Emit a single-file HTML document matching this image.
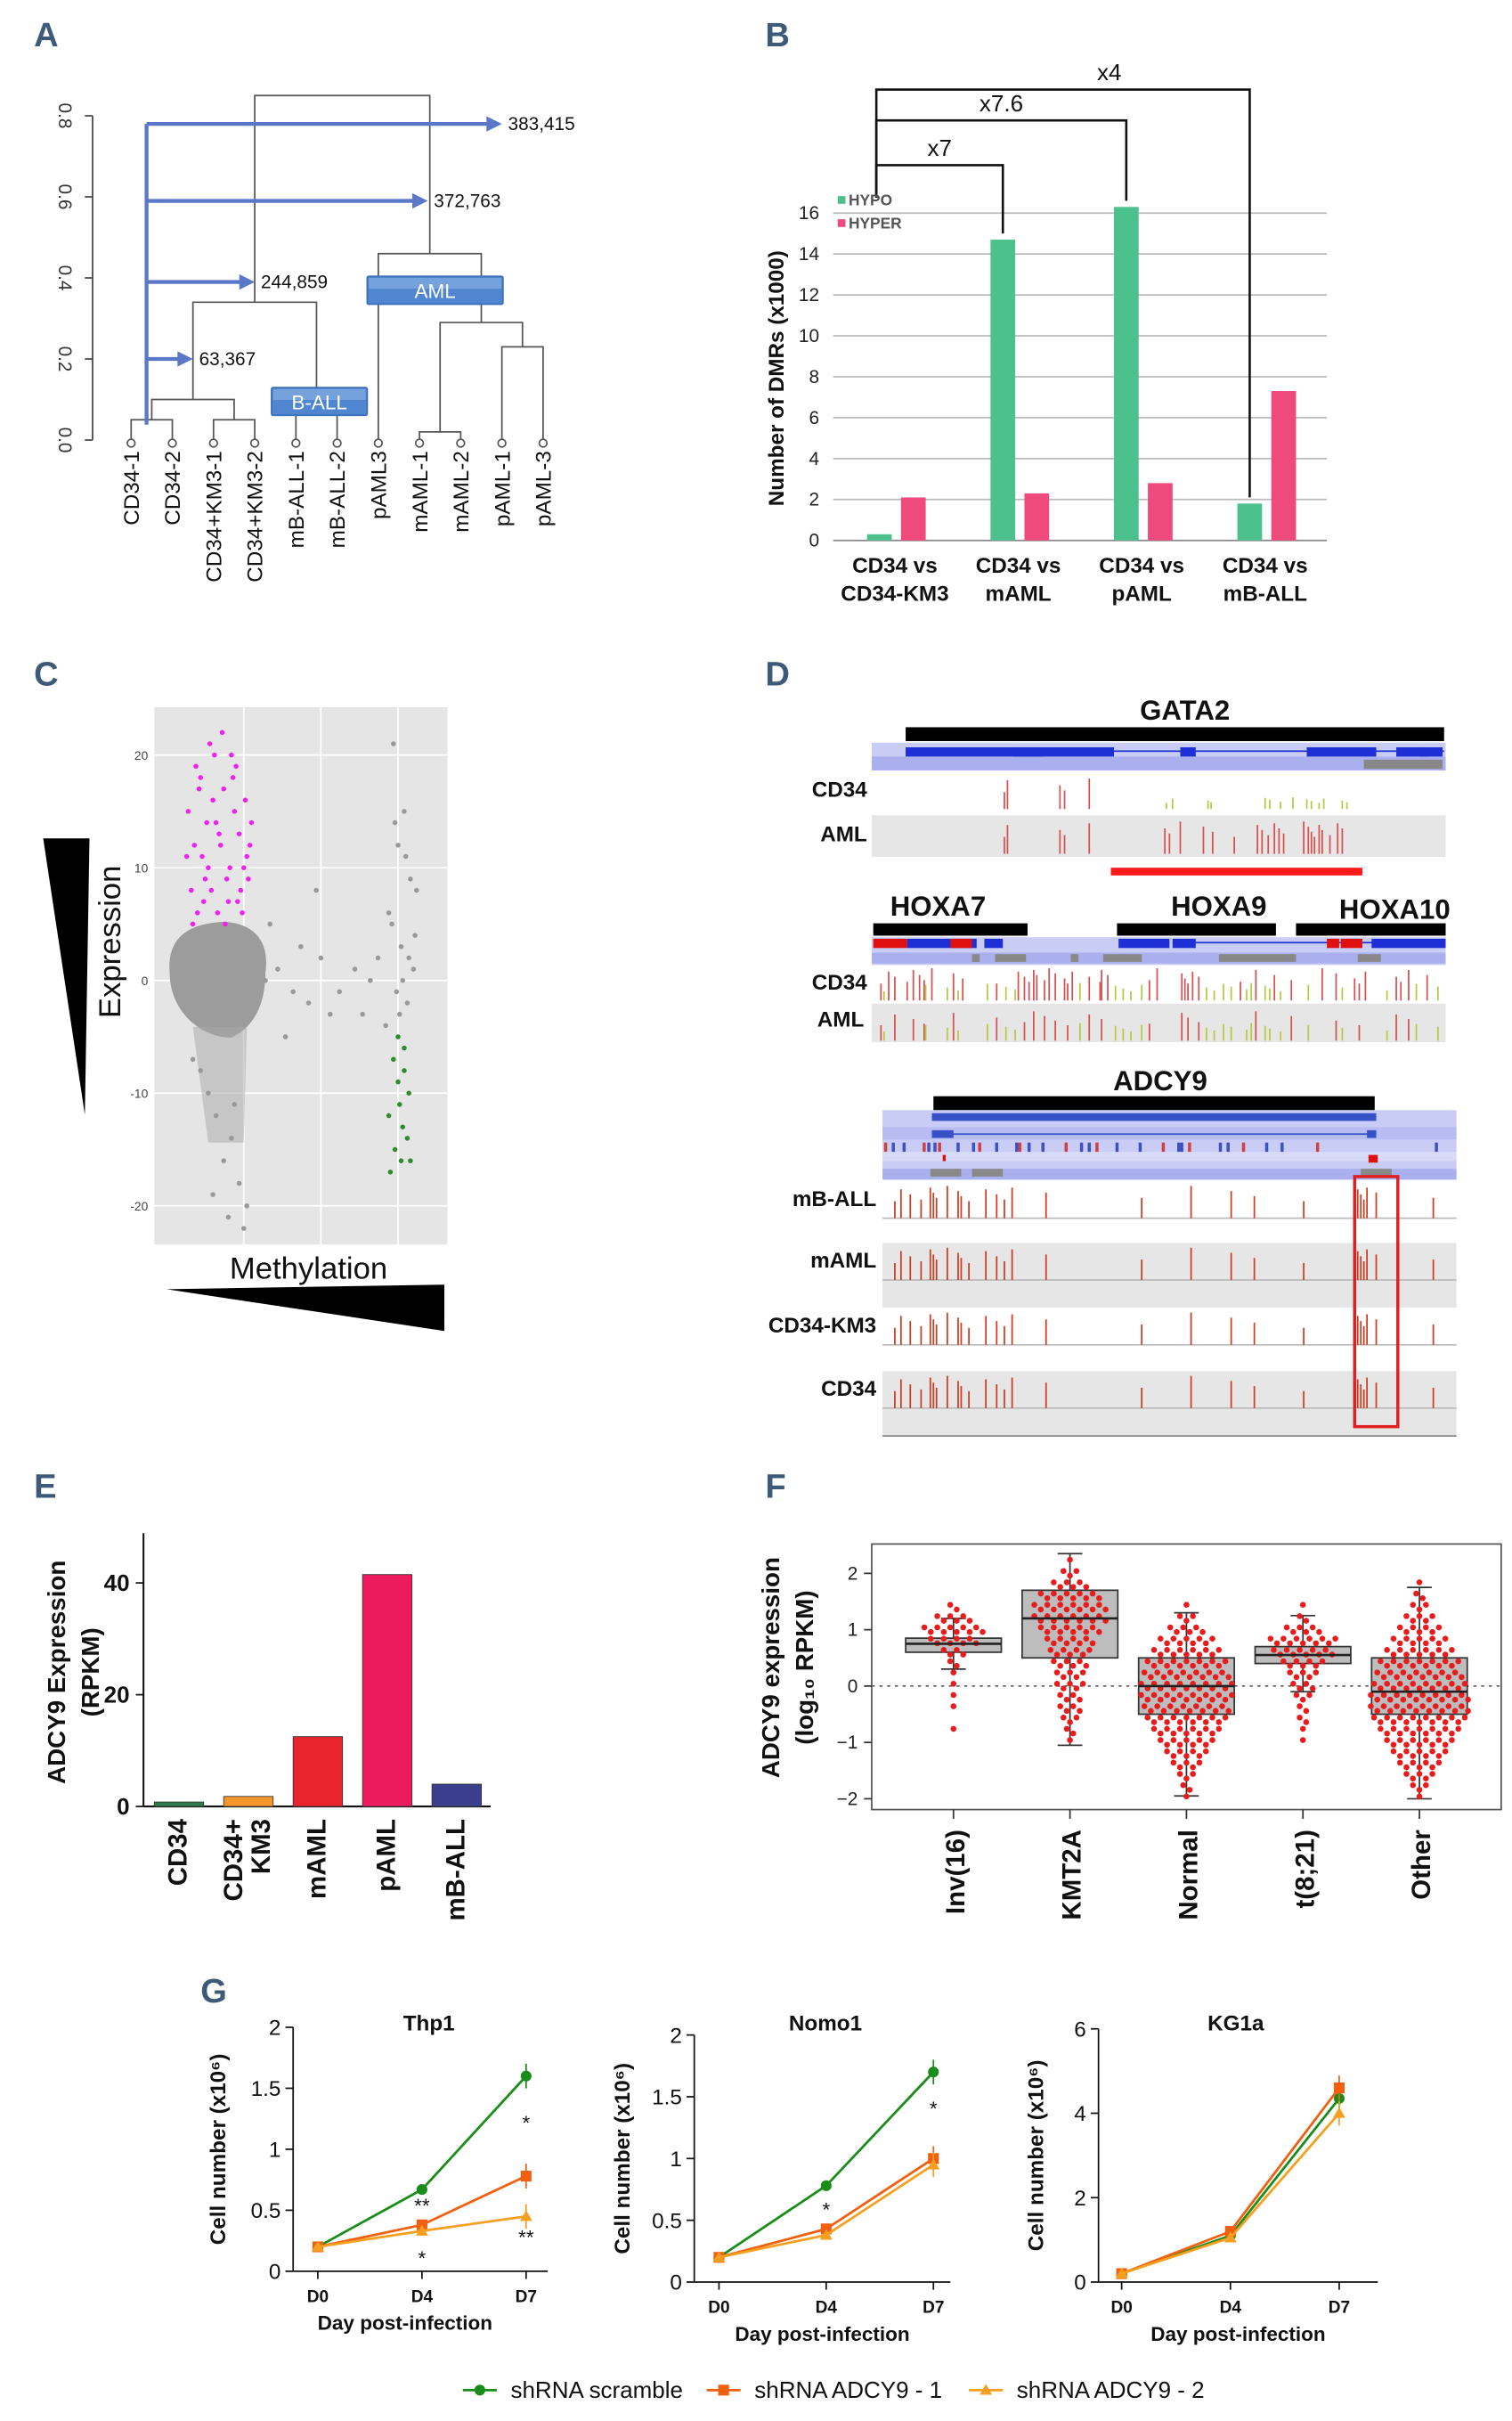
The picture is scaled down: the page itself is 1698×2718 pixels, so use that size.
<!DOCTYPE html>
<html><head><meta charset="utf-8"><style>
html,body{margin:0;padding:0;background:#fff}
svg{display:block}
text{font-family:"Liberation Sans",sans-serif}
</style></head><body>
<svg id="fig" xmlns="http://www.w3.org/2000/svg" width="1698" height="2718" viewBox="0 0 980 1568" preserveAspectRatio="none">
<g id="panelLetters" fill="#3d5a78" font-size="22" font-weight="bold">
<text x="22" y="30">A</text>
<text x="496" y="30">B</text>
<text x="22" y="444">C</text>
<text x="496" y="444">D</text>
<text x="22" y="970">E</text>
<text x="496" y="970">F</text>
<text x="130" y="1297">G</text>
</g>
</svg>
<script>
const svg=document.getElementById('fig');
const NS='http://www.w3.org/2000/svg';
function mk(tag,attrs,parent){const e=document.createElementNS(NS,tag);for(const k in attrs)e.setAttribute(k,attrs[k]);(parent||svg).appendChild(e);return e;}
function txt(x,y,s,attrs,parent){const e=mk('text',Object.assign({x:x,y:y},attrs||{}),parent);e.textContent=s;return e;}

/* ================= PANEL A: dendrogram ================= */
const aLeaves=['CD34-1','CD34-2','CD34+KM3-1','CD34+KM3-2','mB-ALL-1','mB-ALL-2','pAML3','mAML-1','mAML-2','pAML-1','pAML-3'];
const aTicks=[0,0.2,0.4,0.6,0.8];
const aArrowVals=[0.78,0.59,0.39,0.2];
const aArrowLabels=['383,415','372,763','244,859','63,367'];
const aArrowEnds=[9.0,7.2,3.0,1.5];
const aLinks=[[0,1,0.05],[2,3,0.05],['a','b',0.1],[4,5,0.07],['c','d',0.34],[7,8,0.02],[9,10,0.23],['f','g',0.29],[6,'h',0.46],['e','i',0.85]];
const gA=mk('g',{});
const axL=i=>85+i*26.7, ayL=v=>285-v*262.5;
mk('line',{x1:60,y1:ayL(0),x2:60,y2:ayL(0.8),stroke:'#444','stroke-width':1},gA);
aTicks.forEach(t=>{mk('line',{x1:55,y1:ayL(t),x2:60,y2:ayL(t),stroke:'#444'},gA);
 const l=txt(38,ayL(t),t.toFixed(1),{'font-size':12,fill:'#333','text-anchor':'middle',transform:`rotate(90 38 ${ayL(t)})`},gA);
 });
const nodes={};
const keys='abcdefghij';
function nodeX(n){return typeof n==='number'?axL(n):nodes[n].x;}
function nodeY(n){return typeof n==='number'?ayL(0):nodes[n].y;}
aLinks.forEach((lk,i)=>{const x1=nodeX(lk[0]),x2=nodeX(lk[1]),y=ayL(lk[2]);
 const p=mk('path',{d:`M${x1},${nodeY(lk[0])}V${y}H${x2}V${nodeY(lk[1])}`,fill:'none',stroke:'#555','stroke-width':1},gA);
 
 nodes[keys[i]]={x:(x1+x2)/2,y:y};});
aLeaves.forEach((n,i)=>{const x=axL(i);
 const c=mk('circle',{cx:x,cy:ayL(0)+2,r:2.5,fill:'#fff',stroke:'#555'},gA);
 const t=txt(x+5,292,n,{'font-size':14,'text-anchor':'end',transform:`rotate(-90 ${x+5} 292)`,fill:'#111'},gA);
 });
mk('line',{x1:95,y1:ayL(aArrowVals[0]),x2:95,y2:275,stroke:'#5b78c8','stroke-width':2.5},gA);
aArrowVals.forEach((v,i)=>{const y=ayL(v),x2=axL(aArrowEnds[i]);
 const a=mk('line',{x1:95,y1:y,x2:x2-8,y2:y,stroke:'#5b78c8','stroke-width':2.5},gA);
 mk('polygon',{points:`${x2},${y} ${x2-10},${y-5} ${x2-10},${y+5}`,fill:'#5b78c8'},gA);
 const t=txt(x2+4,y+4,aArrowLabels[i],{'font-size':12,fill:'#111'},gA);});
[['AML',238,179,88],['B-ALL',176,251,62]].forEach(b=>{
 const r=mk('rect',{x:b[1],y:b[2],width:b[3],height:18,fill:'#4f86cf',stroke:'#3a6fb7',rx:1},gA);
 mk('rect',{x:b[1]+1,y:b[2]+1,width:b[3]-2,height:7,fill:'#8fb5e6',opacity:0.6},gA);
 const t=txt(b[1]+b[3]/2,b[2]+14,b[0],{'font-size':13,fill:'#fff','text-anchor':'middle'},gA);});

/* ================= PANEL B: DMR bars ================= */
const bCats=[['CD34 vs','CD34-KM3'],['CD34 vs','mAML'],['CD34 vs','pAML'],['CD34 vs','mB-ALL']];
const bHypo=[0.3,14.7,16.3,1.8];
const bHyper=[2.1,2.3,2.8,7.3];
const bTicks=[0,2,4,6,8,10,12,14,16];
const bBrackets=['x7','x7.6','x4'];
const gB=mk('g',{});
const by=v=>350-v*13.25, bx=i=>580+i*80;
bTicks.forEach(t=>{if(t>0){const g=mk('line',{x1:540,y1:by(t),x2:860,y2:by(t),stroke:'#bbb'},gB);}
 const l=txt(531,by(t)+4,t,{'font-size':12,'text-anchor':'end',fill:'#222'},gB);});
mk('line',{x1:540,y1:350,x2:860,y2:350,stroke:'#888'},gB);
const byl=txt(508,245,'Number of DMRs (x1000)',{'font-size':14,'font-weight':'bold','text-anchor':'middle',transform:'rotate(-90 508 245)',fill:'#111'},gB);

bCats.forEach((c,i)=>{
 const r1=mk('rect',{x:bx(i)-18,y:by(bHypo[i]),width:16,height:350-by(bHypo[i]),fill:'#4cc08d'},gB);
 const r2=mk('rect',{x:bx(i)+4,y:by(bHyper[i]),width:16,height:350-by(bHyper[i]),fill:'#ee4a7c'},gB);
 const t1=txt(bx(i),371,c[0],{'font-size':14,'font-weight':'bold','text-anchor':'middle',fill:'#111'},gB);
 const t2=txt(bx(i),389,c[1],{'font-size':14,'font-weight':'bold','text-anchor':'middle',fill:'#111'},gB);});
const brY=[107,78,58];
bBrackets.forEach((s,i)=>{const x2=bx(i+1)-10,y=brY[i];
 const p=mk('path',{d:`M568,128V${y}H${x2}V${by(bHypo[i+1])-4}`,fill:'none',stroke:'#111','stroke-width':1.5},gB);
 const t=txt((568+x2)/2+(i==2?30:0),y-6,s,{'font-size':15,'text-anchor':'middle',fill:'#111'},gB);});
[['HYPO','#4cc08d',133],['HYPER','#ee4a7c',148]].forEach(l=>{mk('rect',{x:543,y:l[2]-6,width:5,height:5,fill:l[1]},gB);
 const t=txt(550,l[2],l[0],{'font-size':10,'font-weight':'bold',fill:'#555'},gB);});

/* ================= PANEL C: scatter ================= */
const cMagX=[122,126,130,135,140,145,150,155,160,124,128,133,138,143,148,153,158,163,125,131,137,142,147,152,157,162,129,136,144,151,159,146,154,141,149,156,121,134,139,161,127,132];
const cMagY=[15,12,18,10,14,17,20,13,11,8,6,9,16,12,7,19,10,14,5,11,8,13,9,15,6,12,17,21,22,18,16,5,7,6,10,8,11,14,20,9,19,7];
const cGreenX=[258,262,255,265,259,252,261,264,256,260,253,266,258,262];
const cGreenY=[-5,-6,-7,-10,-11,-12,-13,-14,-15,-16,-17,-16,-9,-8];
const cGreyX=[255,262,258,266,252,260,268,257,264,254,270,259,263,256,261,265,250,269,172,180,190,200,208,214,185,195,205,175,220,230,240,235,245];
const cGreyY=[21,15,12,9,6,3,1,-1,-2,5,8,-3,11,14,0,2,-4,4,0,1,-1,-2,2,-3,-5,3,8,5,-1,1,0,-3,2];
const cLowX=[125,135,140,150,155,160,145,130,158,148,138,152];
const cLowY=[-7,-10,-12,-14,-18,-20,-16,-8,-22,-21,-19,-11];
const gC=mk('g',{});
const cy=v=>635-v*7.3;
const bg=mk('rect',{x:100,y:458,width:190,height:348,fill:'#e5e5e5'},gC);
[158,208,258].forEach(x=>mk('line',{x1:x,y1:458,x2:x,y2:806,stroke:'#fff','stroke-width':1},gC));
[20,10,0,-10,-20].forEach(t=>{mk('line',{x1:100,y1:cy(t),x2:290,y2:cy(t),stroke:'#fff'},gC);
 const l=txt(96,cy(t)+3,t,{'font-size':8,'text-anchor':'end',fill:'#444'},gC);});
const blob=mk('path',{d:'M110,630 C108,605 125,598 145,597 C165,598 175,610 172,630 C172,650 165,665 150,672 C130,672 110,655 110,630Z',fill:'#9c9c9c'},gC);

mk('path',{d:'M125,665 L160,665 L158,740 L135,740Z',fill:'#a8a8a8',opacity:0.5},gC);
function dots(xs,ys,col,name){xs.forEach((x,i)=>{const d=mk('circle',{cx:x,cy:cy(ys[i]),r:1.6,fill:col},gC);});}
dots(cGreyX,cGreyY,'#999','c-point-grey');dots(cLowX,cLowY,'#999','c-point-grey');
dots(cMagX,cMagY,'#ee22ee','c-point-magenta');dots(cGreenX,cGreenY,'#2e8b2e','c-point-green');
const tri1=mk('polygon',{points:'28,543 58,543 55,722',fill:'#000'},gC);
const tri2=mk('polygon',{points:'108,835 288,832 288,862',fill:'#000'},gC);
const ct1=txt(78,610,'Expression',{'font-size':20,'text-anchor':'middle',transform:'rotate(-90 78 610)',fill:'#111'},gC);
const ct2=txt(200,828,'Methylation',{'font-size':20,'text-anchor':'middle',fill:'#111'},gC);

/* ================= PANEL D: genome tracks ================= */
const gD=mk('g',{});
function R(x,y,w,h,f,name){const r=mk('rect',{x:x,y:y,width:w,height:h,fill:f},gD);return r;}
function T(x,y,s,size,anchor,name){const t=txt(x,y,s,{'font-size':size,'font-weight':'bold','text-anchor':anchor,fill:'#111'},gD);}
function ticks(xs,base,h,col){xs.forEach((x,i)=>{const l=mk('line',{x1:x,y1:base,x2:x,y2:base-h*(0.5+((i*37)%10)/20),stroke:col,'stroke-width':1},gD);});}
const gataRed=[651,653,687,690,706,826,845,887,889,892,895,898,905];
const gataAmlRed=[651,653,687,690,706,755,758,765,780,786,800,815,818,822,826,829,832,845,848,850,852,855,857,862,867,870];
const gataGreen=[756,760,783,785,820,823,830,838,847,850,855,858,870,873];
T(768,466,'GATA2',18,'middle','gene-title');
R(587,471,349,9,'#000','gene-bar');R(565,481,372,18,'#c9cdf5','annotation-track');R(565,490,372,9,'#aab0ee','annotation-track');
R(587,484,135,6,'#1f2fd6','exon');R(587,486,349,1,'#1f2fd6','intron');R(657,484,19,6,'#1f2fd6','exon');R(765,484,10,6,'#1f2fd6','exon');R(847,484,45,6,'#1f2fd6','exon');R(905,484,20,6,'#1f2fd6','exon');R(920,484,15,6,'#1f2fd6','exon');
R(884,492,51,6,'#888','cpg-island');
R(565,501,372,23,'#fff','track-cd34');T(562,516,'CD34',14,'end','track-label');
ticks(gataRed.slice(0,5),524,22,'#d65050');ticks(gataGreen,524,8,'#b8c840');
R(565,528,372,27,'#e6e6e6','track-aml');T(562,545,'AML',14,'end','track-label');
ticks(gataAmlRed,553,22,'#d65050');
R(720,562,163,5,'#ff1a1a','dmr-region-bar');
T(608,593,'HOXA7',18,'middle','gene-title');T(790,593,'HOXA9',18,'middle','gene-title');T(904,595,'HOXA10',18,'middle','gene-title');
R(566,598,100,8,'#000','gene-bar');R(724,598,103,8,'#000','gene-bar');R(840,598,97,8,'#000','gene-bar');
R(565,607,372,18,'#c9cdf5','annotation-track');R(565,617,372,7,'#aab0ee','annotation-track');
R(566,608,22,6,'#e01010','exon');R(588,608,45,6,'#1f2fd6','exon');R(616,608,14,6,'#e01010','exon');R(638,608,12,6,'#1f2fd6','exon');R(725,608,33,6,'#1f2fd6','exon');R(760,608,15,6,'#1f2fd6','exon');R(760,610,140,1,'#1f2fd6','intron');R(860,608,8,6,'#e01010','exon');R(869,608,14,6,'#e01010','exon');R(889,608,48,6,'#1f2fd6','exon');
[[630,5],[645,20],[694,5],[715,25],[790,50],[880,15]].forEach(g=>R(g[0],618,g[1],5,'#888','cpg-island'));
const hoxRed=[571,576,580,588,592,596,599,604,618,624,646,660,664,667,670,672,677,680,684,690,692,695,706,713,714,718,745,750,766,768,770,773,777,804,814,826,837,857,866,878,881,885,905,908,913,925];
const hoxGreen=[573,600,614,621,640,652,658,700,723,728,733,740,782,787,793,798,808,811,820,823,830,848,870,899,918,932];
T(562,641,'CD34',14,'end','track-label');ticks(hoxRed,648,22,'#d65050');ticks(hoxGreen,648,12,'#b8c840');
R(565,650,372,25,'#e6e6e6','track-aml');T(560,665,'AML',14,'end','track-label');
ticks(hoxRed.filter((x,i)=>i%2==0),674,20,'#d65050');ticks(hoxGreen,674,12,'#b8c840');
T(752,706,'ADCY9',18,'middle','gene-title');R(605,710,286,9,'#000','gene-bar');
R(572,719,372,45,'#c9cdf5','annotation-track');R(572,730,372,8,'#b7bdf0','annotation-track');R(572,746,372,6,'#d8dbf8','annotation-track');R(572,757,372,7,'#aab0ee','annotation-track');
R(604,721,288,5,'#3650c8','transcript');R(604,732,14,5,'#3650c8','exon');R(604,734,288,1,'#3650c8','intron');R(886,732,6,5,'#3650c8','exon');
const adRow=[573,578,585,598,601,605,608,620,630,634,645,658,660,666,675,690,700,705,710,723,738,753,763,765,770,790,795,805,820,830,853,930];
adRow.forEach((x,i)=>R(x,740,2,6,i%3==0?'#d04040':'#4050c0','snp-mark'));
R(611,748,2,4,'#e01010','marker');R(887,748,6,5,'#e01010','marker');
R(603,757,20,5,'#888','cpg-island');R(630,757,20,5,'#888','cpg-island');R(882,757,20,5,'#888','cpg-island');
const adTracks=[['mB-ALL',765,'#fff'],['mAML',805,'#e6e6e6'],['CD34-KM3',847,'#fff'],['CD34',888,'#e6e6e6']];
const adRed=[580,584,590,597,603,605,607,614,621,623,628,639,646,651,656,678,740,772,798,813,845,880,882,884,886,892,929];
adTracks.forEach(t=>{R(572,t[1],372,42,t[2],'track-'+t[0].toLowerCase());
 mk('line',{x1:572,y1:t[1]+24,x2:944,y2:t[1]+24,stroke:'#bbb'},gD);
 T(568,t[1]+16,t[0],14,'end','track-label');ticks(adRed,t[1]+24,22,'#d03a20');});
const box=mk('rect',{x:878,y:762,width:28,height:162,fill:'none',stroke:'#e02020','stroke-width':2},gD);
mk('line',{x1:572,y1:930,x2:944,y2:930,stroke:'#888'},gD);

/* ================= PANEL E: ADCY9 RPKM ================= */
const eCats=[['CD34'],['CD34+','KM3'],['mAML'],['pAML'],['mB-ALL']];
const eVals=[0.8,1.8,12.5,41.5,4];
const eCols=['#2e7d4f','#f5962a','#e8242c','#ec1a5e','#3a3e8c'];
const eTicks=[0,20,40];
const gE=mk('g',{});
const ey=v=>1170-v*3.62, ex=i=>116+i*45;
mk('line',{x1:93,y1:993,x2:93,y2:1170,stroke:'#111','stroke-width':1.2},gE);mk('line',{x1:93,y1:1170,x2:318,y2:1170,stroke:'#111','stroke-width':1.2},gE);
eTicks.forEach(t=>{mk('line',{x1:88,y1:ey(t),x2:93,y2:ey(t),stroke:'#111'},gE);
 const l=txt(84,ey(t)+5,t,{'font-size':15,'font-weight':'bold','text-anchor':'end',fill:'#111'},gE);});
const e1=txt(42,1083,'ADCY9 Expression',{'font-size':16,'font-weight':'bold','text-anchor':'middle',transform:'rotate(-90 42 1083)',fill:'#111'},gE);
const e2=txt(64,1083,'(RPKM)',{'font-size':16,'font-weight':'bold','text-anchor':'middle',transform:'rotate(-90 64 1083)',fill:'#111'},gE);
eCats.forEach((c,i)=>{const r=mk('rect',{x:ex(i)-16,y:ey(eVals[i]),width:32,height:1170-ey(eVals[i]),fill:eCols[i],stroke:'#333','stroke-width':0.5},gE);
 
 c.forEach((s,j)=>{const x=ex(i)+5+(c.length>1?(j-0.5)*18:0);const t=txt(x,1178,s,{'font-size':17,'font-weight':'bold','text-anchor':'end',transform:`rotate(-90 ${x} 1178)`,fill:'#111'},gE);
  });});

/* ================= PANEL F: box + swarm ================= */
const fCats=['Inv(16)','KMT2A','Normal','t(8;21)','Other'];
const fQ1=[0.6,0.5,-0.5,0.4,-0.5];
const fMed=[0.75,1.2,0,0.55,-0.1];
const fQ3=[0.85,1.7,0.5,0.7,0.5];
const fLo=[0.3,-1.05,-1.95,-0.1,-2];
const fHi=[1.2,2.35,1.3,1.25,1.75];
const fCounts=[
 [0,0,0,0,0,0,1,0,1,1,1,1,2,4,8,10,6,2,0,0,0,0],
 [0,0,0,0,0,1,2,3,4,4,5,5,6,7,8,10,12,12,10,6,3,1],
 [1,2,3,5,7,9,11,13,14,15,15,14,13,11,9,6,3,1,0,0,0,0],
 [0,0,0,0,0,1,1,2,2,3,4,5,7,10,11,6,2,1,0,0,0,0],
 [1,3,5,7,9,11,13,15,16,16,15,14,13,11,9,7,5,3,2,1,0,0]];
const fTicks=[-2,-1,0,1,2];
const gF=mk('g',{});
const fy=v=>1092-v*36.5, fx=i=>618+i*75.5;
const fr=mk('rect',{x:565,y:1000,width:408,height:172,fill:'#fff',stroke:'#555'},gF);
mk('line',{x1:565,y1:fy(0),x2:973,y2:fy(0),stroke:'#666','stroke-dasharray':'2,3'},gF);
fTicks.forEach(t=>{mk('line',{x1:560,y1:fy(t),x2:565,y2:fy(t),stroke:'#333'},gF);
 const l=txt(556,fy(t)+4,t<0?'\u2212'+Math.abs(t):t,{'font-size':12,'text-anchor':'end',fill:'#222'},gF);});
const fy1=txt(505,1080,'ADCY9 expression',{'font-size':16,'font-weight':'bold','text-anchor':'middle',transform:'rotate(-90 505 1080)',fill:'#111'},gF);
const fy2=txt(527,1080,'(log\u2081\u2080 RPKM)',{'font-size':16,'font-weight':'bold','text-anchor':'middle',transform:'rotate(-90 527 1080)',fill:'#111'},gF);
fCats.forEach((c,i)=>{const x=fx(i);
 mk('line',{x1:x,y1:fy(fLo[i]),x2:x,y2:fy(fHi[i]),stroke:'#333'},gF);
 mk('line',{x1:x-8,y1:fy(fLo[i]),x2:x+8,y2:fy(fLo[i]),stroke:'#333'},gF);mk('line',{x1:x-8,y1:fy(fHi[i]),x2:x+8,y2:fy(fHi[i]),stroke:'#333'},gF);
 const b=mk('rect',{x:x-31,y:fy(fQ3[i]),width:62,height:fy(fQ1[i])-fy(fQ3[i]),fill:'#bdbdbd',stroke:'#333'},gF);
 fCounts[i].forEach((n,k)=>{const v=-2+k*0.2;for(let j=0;j<n;j++){const off=(j-(n-1)/2)*4.2;
  const d=mk('circle',{cx:x+off,cy:fy(v)+((j%2)?1.5:-1.5),r:1.9,fill:'#e81c1c'},gF);}});
 mk('line',{x1:x-31,y1:fy(fMed[i]),x2:x+31,y2:fy(fMed[i]),stroke:'#222','stroke-width':1.5},gF);
 mk('line',{x1:x,y1:1172,x2:x,y2:1178,stroke:'#333'},gF);
 const t=txt(x+7,1185,c,{'font-size':17,'font-weight':'bold','text-anchor':'end',transform:`rotate(-90 ${x+7} 1185)`,fill:'#111'},gF);});

/* ================= PANEL G: growth curves ================= */
const gDays=['D0','D4','D7'];
const thpScr=[0.2,0.67,1.6], thpSh1=[0.2,0.38,0.78], thpSh2=[0.2,0.33,0.45];
const nomScr=[0.2,0.78,1.7], nomSh1=[0.2,0.43,1.0], nomSh2=[0.2,0.38,0.95];
const kgScr=[0.2,1.1,4.35], kgSh1=[0.2,1.2,4.6], kgSh2=[0.2,1.05,4.0];
const thpTicks=[0,0.5,1,1.5,2], nomTicks=[0,0.5,1,1.5,2], kgTicks=[0,2,4,6];
const gCols=['#1a8c1a','#f06010','#f5a020'];
const panels=[
 {name:'Thp1',x0:206,dx:67.5,y0:1471,ymax:2,yTop:1313,ticks:thpTicks,series:[thpScr,thpSh1,thpSh2],axL:190,axR:355,tx:278,ax:146,stars:[[1,1,'**',-8],[2,1,'*',22],[1,2,'*',-30],[2,2,'**',18]]},
 {name:'Nomo1',x0:466,dx:69.5,y0:1478,ymax:2,yTop:1318,ticks:nomTicks,series:[nomScr,nomSh1,nomSh2],axL:450,axR:616,tx:535,ax:408,stars:[[1,1,'*',-8],[1,2,'*',-28]]},
 {name:'KG1a',x0:727,dx:70.5,y0:1478,ymax:6,yTop:1314,ticks:kgTicks,series:[kgScr,kgSh1,kgSh2],axL:712,axR:893,tx:801,ax:676,stars:[]}];
panels.forEach(p=>{const g=mk('g',{});
 const yv=v=>p.y0-v/p.ymax*(p.y0-p.yTop), xv=i=>p.x0+p.dx*i;
 mk('line',{x1:p.axL,y1:p.yTop,x2:p.axL,y2:p.y0,stroke:'#111'},g);mk('line',{x1:p.axL,y1:p.y0,x2:p.axR,y2:p.y0,stroke:'#111'},g);
 p.ticks.forEach(t=>{mk('line',{x1:p.axL-5,y1:yv(t),x2:p.axL,y2:yv(t),stroke:'#111'},g);
  const l=txt(p.axL-8,yv(t)+5,t,{'font-size':14,'text-anchor':'end',fill:'#111'},g);});
 gDays.forEach((d,i)=>{mk('line',{x1:xv(i),y1:p.y0,x2:xv(i),y2:p.y0+5,stroke:'#111'},g);
  const l=txt(xv(i),p.y0+20,d,{'font-size':11,'font-weight':'bold','text-anchor':'middle',fill:'#111'},g);});
 const tt=txt(p.tx,1315,p.name,{'font-size':14,'font-weight':'bold','text-anchor':'middle',fill:'#111'},g);
 const xt=txt((p.axL+p.axR)/2+(p.name=='Thp1'?-10:0),p.y0+38,'Day post-infection',{'font-size':13,'font-weight':'bold','text-anchor':'middle',fill:'#111'},g);
 const ym=(p.y0+p.yTop)/2;const yt=txt(p.ax,ym,'Cell number (x10\u2076)',{'font-size':14,'font-weight':'bold','text-anchor':'middle',transform:`rotate(-90 ${p.ax} ${ym})`,fill:'#111'},g);
 p.series.forEach((s,k)=>{const pl=mk('polyline',{points:s.map((v,i)=>xv(i)+','+yv(v)).join(' '),fill:'none',stroke:gCols[k],'stroke-width':1.6},g);
  
  s.forEach((v,i)=>{const m=k==0?mk('circle',{cx:xv(i),cy:yv(v),r:3.5,fill:gCols[k]},g):k==1?mk('rect',{x:xv(i)-3.5,y:yv(v)-3.5,width:7,height:7,fill:gCols[k]},g):mk('polygon',{points:`${xv(i)},${yv(v)-4} ${xv(i)-4},${yv(v)+3} ${xv(i)+4},${yv(v)+3}`,fill:gCols[k]},g);
   
   if(i==2){mk('line',{x1:xv(i),y1:yv(v)-8,x2:xv(i),y2:yv(v)+8,stroke:gCols[k]},g);}});});
 p.stars.forEach(st=>{const v=p.series[st[0]][st[1]];const s=txt(xv(st[1]),yv(v)+st[3],st[2],{'font-size':13,'text-anchor':'middle',fill:'#111'},g);});});
const gl=mk('g',{});
[['shRNA scramble',300],['shRNA ADCY9 - 1',458],['shRNA ADCY9 - 2',628]].forEach((l,k)=>{const x=l[1];
 mk('line',{x1:x,y1:1548,x2:x+22,y2:1548,stroke:gCols[k],'stroke-width':1.6},gl);
 const m=k==0?mk('circle',{cx:x+11,cy:1548,r:3.5,fill:gCols[k]},gl):k==1?mk('rect',{x:x+7.5,y:1544.5,width:7,height:7,fill:gCols[k]},gl):mk('polygon',{points:`${x+11},1544 ${x+7},1551 ${x+15},1551`,fill:gCols[k]},gl);
 
 const t=txt(x+31,1553,l[0],{'font-size':15,fill:'#111'},gl);});
</script>
</body></html>
